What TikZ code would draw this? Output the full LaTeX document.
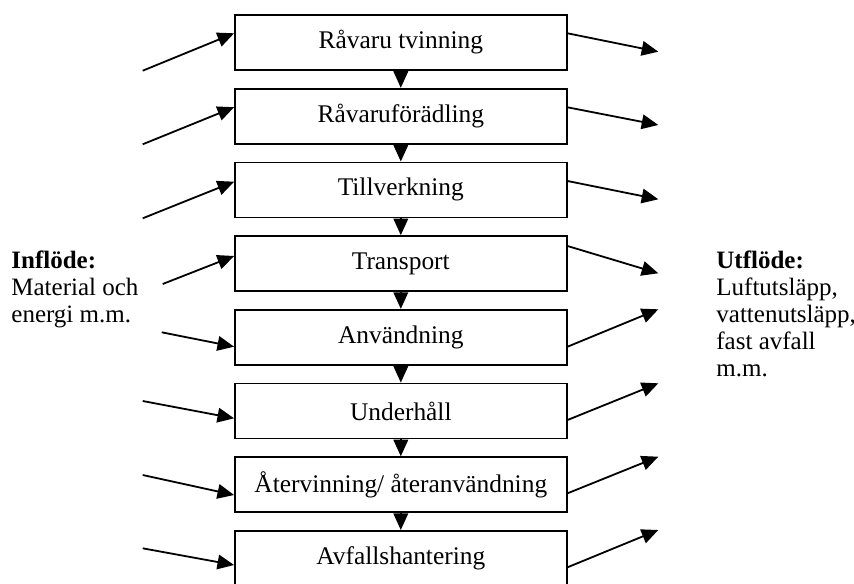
\documentclass[tikz,border=0pt]{standalone}
\usepackage{fontspec}
\setmainfont{Liberation Serif}
\usetikzlibrary{arrows.meta}
\begin{document}
\begin{tikzpicture}[x=0.5pt,y=-0.5pt,
  stage/.style={draw,line width=0.9pt,minimum width=165.8pt,minimum height=27.5pt,inner sep=0pt,font=\fontsize{12.7}{13.5}\selectfont},
  flow/.style={line width=0.9pt,-{Triangle[length=8.3pt,width=7.3pt]}},
  side/.style={align=left,anchor=north west,inner sep=0pt,font=\fontsize{12.5}{13.5}\selectfont}]
\useasboundingbox (0,0) rectangle (854,583);
\clip (0,0) rectangle (854,583);

\node[stage] (b1) at (400.8,42.5) {Råvaru tvinning};
\node[stage] (b2) at (400.8,116.2) {Råvaruförädling};
\node[stage] (b3) at (400.8,189.9) {Tillverkning};
\node[stage] (b4) at (400.8,263.6) {Transport};
\node[stage] (b5) at (400.8,337.3) {Användning};
\node[stage] (b6) at (400.8,411.0) {Underhåll};
\node[stage] (b7) at (400.8,484.7) {Återvinning/ återanvändning};
\node[stage] (b8) at (400.8,558.4) {Avfallshantering};

\draw[flow] (b1) -- (b2);
\draw[flow] (b2) -- (b3);
\draw[flow] (b3) -- (b4);
\draw[flow] (b4) -- (b5);
\draw[flow] (b5) -- (b6);
\draw[flow] (b6) -- (b7);
\draw[flow] (b7) -- (b8);

\node[side] (in) at (11,250.5) {\textbf{Inflöde:}\\Material och\\energi m.m.};
\node[side] (out) at (716,250.2) {\textbf{Utflöde:}\\Luftutsläpp,\\vattenutsläpp,\\fast avfall\\m.m.};

\coordinate (l1) at (142.7,70.7);
\coordinate (l2) at (142.7,144.3);
\coordinate (l3) at (142.7,218.3);
\coordinate (l4) at (162.7,284);
\coordinate (l5) at (161.7,332.3);
\coordinate (l6) at (142.7,401);
\coordinate (l7) at (142.7,475);
\coordinate (l8) at (142.7,548.3);
\draw[flow] (l1) -- ([yshift=4.6pt]b1.west);
\draw[flow] (l2) -- ([yshift=4.5pt]b2.west);
\draw[flow] (l3) -- ([yshift=4.1pt]b3.west);
\draw[flow] (l4) -- ([yshift=3.8pt]b4.west);
\draw[flow] (l5) -- ([yshift=-4.7pt]b5.west);
\draw[flow] (l6) -- ([yshift=-3.65pt]b6.west);
\draw[flow] (l7) -- ([yshift=-5.15pt]b7.west);
\draw[flow] (l8) -- ([yshift=-3.3pt]b8.west);

\coordinate (r1) at (658.3,51.7);
\coordinate (r2) at (658.3,125);
\coordinate (r3) at (658.3,199.3);
\coordinate (r4) at (658.3,273.3);
\coordinate (r5) at (658.3,309.3);
\coordinate (r6) at (658.3,383.3);
\coordinate (r7) at (658.3,456.7);
\coordinate (r8) at (658.3,530);
\draw[flow] ([yshift=4.6pt]b1.east) -- (r1);
\draw[flow] ([yshift=4.45pt]b2.east) -- (r2);
\draw[flow] ([yshift=4.45pt]b3.east) -- (r3);
\draw[flow] ([yshift=8.8pt]b4.east) -- (r4);
\draw[flow] ([yshift=-4.7pt]b5.east) -- (r5);
\draw[flow] ([yshift=-4.5pt]b6.east) -- (r6);
\draw[flow] ([yshift=-4.3pt]b7.east) -- (r7);
\draw[flow] ([yshift=-4.45pt]b8.east) -- (r8);
\end{tikzpicture}
\end{document}
